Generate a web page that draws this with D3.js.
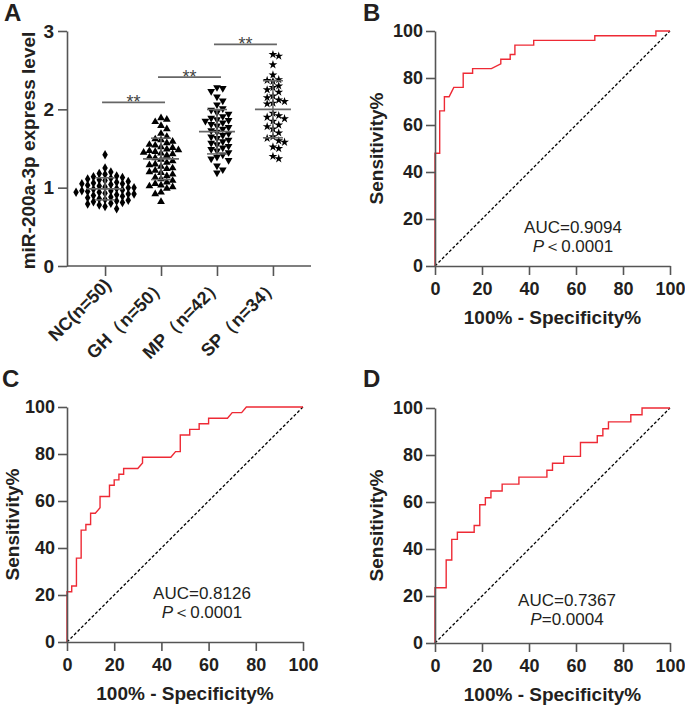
<!DOCTYPE html>
<html><head><meta charset="utf-8">
<script src="https://cdn.jsdelivr.net/npm/d3@7"></script>
<style>body{margin:0;background:#fff}svg{display:block}text{font-family:"Liberation Sans",Arial,sans-serif;}</style>
</head><body>
<svg id="c" width="685" height="706"></svg>
<script>
// ---------- DATA ----------
const groups = ["NC(n=50)", "GH（n=50）", "MP（n=42）", "SP（n=34）"];
const ncValues = [1.42,1.25,1.20,1.18,1.17,1.15,1.14,1.13,1.12,1.11,1.10,1.09,1.08,1.07,1.06,1.05,1.05,1.04,1.03,1.02,1.01,1.00,1.00,0.99,0.98,0.97,0.96,0.96,0.95,0.94,0.94,0.93,0.92,0.92,0.91,0.90,0.89,0.88,0.87,0.86,0.85,0.84,0.83,0.82,0.81,0.80,0.79,0.78,0.76,0.73];
const ghValues = [1.90,1.88,1.85,1.80,1.76,1.70,1.66,1.63,1.62,1.60,1.58,1.56,1.55,1.53,1.52,1.50,1.49,1.48,1.47,1.46,1.45,1.44,1.42,1.40,1.39,1.37,1.35,1.33,1.31,1.30,1.28,1.26,1.25,1.23,1.21,1.20,1.18,1.16,1.14,1.12,1.10,1.08,1.06,1.04,1.03,1.02,1.00,0.95,0.93,0.83];
const mpValues = [2.27,2.26,2.22,2.15,2.10,2.05,2.00,1.98,1.95,1.93,1.90,1.88,1.86,1.85,1.84,1.82,1.80,1.78,1.76,1.74,1.72,1.70,1.68,1.66,1.64,1.62,1.60,1.58,1.56,1.54,1.52,1.50,1.48,1.46,1.44,1.41,1.38,1.36,1.34,1.27,1.22,1.18];
const spValues = [2.70,2.68,2.57,2.44,2.38,2.37,2.36,2.30,2.28,2.25,2.22,2.17,2.15,2.12,2.10,2.08,2.07,1.95,1.92,1.90,1.88,1.85,1.80,1.78,1.75,1.70,1.65,1.63,1.60,1.58,1.52,1.50,1.40,1.37];
const yTicksA = [0, 1, 2, 3];
const sigBars = [ {from:0, to:1, y:2.09, label:"**"}, {from:1, to:2, y:2.41, label:"**"}, {from:2, to:3, y:2.83, label:"**"} ];

const rocB = [[0,0],[0,48],[2,48],[2,66],[4,66],[4,72],[6,72],[7,74],[8,76],[12,76],[12,82],[16,82],[16,84],[24,84],[28,86],[28,88],[32,88],[32,90],[34,90],[34,94],[42,94],[42,96],[68,96],[68,98],[94,98],[94,100],[100,100]];
const rocC = [[0,0],[0,21.4],[2,21.4],[2,23.8],[4,23.8],[4,35.7],[6,35.7],[6,47.6],[8,47.6],[8,50],[10,50],[10,54.8],[12,54.8],[14,57.1],[14,61.9],[18,61.9],[18,66.7],[20,66.7],[20,69],[22,69],[22,71.4],[24,71.4],[24,73.8],[30,73.8],[32,76.2],[32,78.6],[44,78.6],[46,81],[48,81],[48,88.1],[52,88.1],[52,90.5],[56,90.5],[56,92.9],[60,92.9],[60,95.2],[68,95.2],[70,97.6],[74,97.6],[76,100],[100,100]];
const rocD = [[0,0],[0,23.5],[4.76,23.5],[4.76,35.3],[7.14,35.3],[7.14,44.1],[9.52,44.1],[9.52,47.1],[16.67,47.1],[16.67,50],[19.05,50],[19.05,58.8],[21.43,58.8],[21.43,61.8],[23.81,61.8],[23.81,64.7],[28.57,64.7],[28.57,67.6],[35.71,67.6],[35.71,70.6],[47.62,70.6],[47.62,73.5],[50,73.5],[50,76.5],[54.76,76.5],[54.76,79.4],[61.9,79.4],[61.9,85.3],[69.05,85.3],[69.05,88.2],[71.43,88.2],[71.43,91.2],[73.81,91.2],[73.81,94.1],[83.33,94.1],[83.33,97.1],[88.1,97.1],[88.1,100],[100,100]];
const rocTicks = [0, 20, 40, 60, 80, 100];
const aucLabels = ["AUC=0.9094", "AUC=0.8126", "AUC=0.7367"];
const pLabels = ["＜0.0001", "＜0.0001", "=0.0004"];

// ---------- DRAW ----------
const svg = d3.select("#c");
const TXT = "#231f20", AX = "#555", RED = "#ee2a35";
const FONT = '"Liberation Sans",Arial,sans-serif';

function styleAxis(g, fs){
  g.selectAll(".domain").attr("stroke", AX).attr("stroke-width", 1.6);
  g.selectAll(".tick line").attr("stroke", AX).attr("stroke-width", 1.6);
  g.selectAll(".tick text").attr("fill", TXT).attr("font-size", fs||18).attr("font-weight", "bold").attr("font-family", FONT);
}

function panelLetter(t, x, y){
  svg.append("text").attr("x", x).attr("y", y).text(t).attr("font-size", 24).attr("font-weight","bold").attr("fill", TXT);
}

// Panel A
(function(){
  const L = 67, R = 311, T = 31, B = 266;
  const y = d3.scaleLinear().domain([0,3]).range([B, T]);
  const x = d3.scalePoint().domain(groups).range([L, R]).padding(0.68);
  const g = svg.append("g");
  const ya = g.append("g").attr("transform", `translate(${L},0)`).call(d3.axisLeft(y).tickValues(yTicksA).tickFormat(d3.format("d")).tickSize(9).tickSizeOuter(0).tickPadding(4));
  styleAxis(ya, 19);
  const xa = g.append("g").attr("transform", `translate(0,${B})`).call(d3.axisBottom(x).tickSize(10).tickSizeOuter(0).tickFormat(""));
  styleAxis(xa);
  xa.select(".domain").attr("d", `M${L},0H${R}`);
  groups.forEach(gr => {
    g.append("text").attr("transform", `translate(${x(gr)+7},${B+20}) rotate(-45)`)
      .attr("text-anchor","end").attr("font-size", 18).attr("font-weight","bold").attr("fill", TXT).text(gr);
  });
  g.append("text").attr("transform", `translate(35,${(T+B)/2+2}) rotate(-90)`).attr("text-anchor","middle")
    .attr("font-size", 19).attr("font-weight","bold").attr("fill", TXT).text("miR-200a-3p express level");

  const sets = [ncValues, ghValues, mpValues, spValues];
  const shapes = [d3.symbolDiamond, d3.symbolTriangle, d3.symbolTriangle, d3.symbolStar];
  const sizes = [26, 26, 26, 24];
  const rot = [0, 0, 180, 0];
  sets.forEach((vals, i) => {
    const cx = x(groups[i]);
    const sorted = vals.slice().sort((a,b)=>b-a);
    const placed = [];
    const D = 5.6, step = 5.8;
    sorted.forEach(v => {
      const py = y(v);
      let k = 0, dx = 0;
      while (true){
        dx = (k===0)?0:((k%2===1)?1:-1)*Math.ceil(k/2)*step;
        if (placed.every(p => (p[0]-dx)**2 + (p[1]-py)**2 >= D*D)) break;
        k++;
      }
      placed.push([dx, py]);
    });
    const sym = d3.symbol().type(shapes[i]).size(sizes[i]);
    g.append("g").selectAll("path").data(placed).join("path")
      .attr("d", sym).attr("fill", "#000")
      .attr("transform", p => `translate(${cx+p[0]},${p[1]+(i===1?0.8:(i===2?-0.8:0))}) rotate(${rot[i]})`);
    const m = d3.mean(vals), sd = d3.deviation(vals);
    const lc = "#666";
    g.append("line").attr("x1", cx-18).attr("x2", cx+18).attr("y1", y(m)).attr("y2", y(m)).attr("stroke", lc).attr("stroke-width", 1.7);
    [m-sd, m+sd].forEach(v => g.append("line").attr("x1", cx-10).attr("x2", cx+10).attr("y1", y(v)).attr("y2", y(v)).attr("stroke", lc).attr("stroke-width", 1.5));
    g.append("line").attr("x1", cx).attr("x2", cx).attr("y1", y(m-sd)).attr("y2", y(m+sd)).attr("stroke", lc).attr("stroke-width", 1.5);
  });
  sigBars.forEach(s => {
    const x1 = x(groups[s.from]) - 3, x2 = x(groups[s.to]) + 4;
    g.append("line").attr("x1", x1).attr("x2", x2).attr("y1", y(s.y)).attr("y2", y(s.y)).attr("stroke", "#666").attr("stroke-width", 1.7);
    g.append("text").attr("x", (x1+x2)/2).attr("y", y(s.y)+6).attr("text-anchor","middle").attr("font-size", 18).attr("fill", "#444").text(s.label);
  });
})();

// ROC panels
function rocPanel(L, T, W, H, data, auc, pTxt, txtX, txtY){
  const x = d3.scaleLinear().domain([0,100]).range([L, L+W]);
  const y = d3.scaleLinear().domain([0,100]).range([T+H, T]);
  const g = svg.append("g");
  g.append("line").attr("x1", x(0)).attr("y1", y(0)).attr("x2", x(100)).attr("y2", y(100))
    .attr("stroke", "#000").attr("stroke-width", 1.3).attr("stroke-dasharray", "3,2");
  g.append("path").datum(data).attr("d", d3.line().x(d=>x(d[0])).y(d=>y(d[1])))
    .attr("fill","none").attr("stroke", RED).attr("stroke-width", 1.4);
  const ya = g.append("g").attr("transform", `translate(${L},0)`).call(d3.axisLeft(y).tickValues(rocTicks).tickSize(9).tickSizeOuter(0).tickPadding(3));
  styleAxis(ya, 18);
  const xa = g.append("g").attr("transform", `translate(0,${T+H})`).call(d3.axisBottom(x).tickValues(rocTicks).tickSize(9).tickSizeOuter(0).tickPadding(7));
  styleAxis(xa, 18);
  g.append("text").attr("transform", `translate(${Math.max(L-52, 19)},${T+H/2}) rotate(-90)`).attr("text-anchor","middle")
    .attr("font-size", 19).attr("font-weight","bold").attr("fill", TXT).text("Sensitivity%");
  g.append("text").attr("x", L+W/2).attr("y", T+H+58).attr("text-anchor","middle")
    .attr("font-size", 19).attr("font-weight","bold").attr("fill", TXT).text("100% - Specificity%");
  g.append("text").attr("x", txtX).attr("y", txtY).attr("text-anchor","middle").attr("font-size", 17).attr("fill", TXT).text(auc);
  const t2 = g.append("text").attr("x", txtX).attr("y", txtY+19).attr("text-anchor","middle").attr("font-size", 17).attr("fill", TXT);
  t2.append("tspan").attr("font-style","italic").text("P");
  t2.append("tspan").text(pTxt);
}

rocPanel(435, 31, 235, 235, rocB, aucLabels[0], pLabels[0], 573, 233);
rocPanel(67, 407, 236, 235, rocC, aucLabels[1], pLabels[1], 202, 599);
rocPanel(435, 408, 235, 235, rocD, aucLabels[2], pLabels[2], 567, 606);

panelLetter("A", 4, 21);
panelLetter("B", 363, 21);
panelLetter("C", 2, 387);
panelLetter("D", 363, 387);
</script>
</body></html>
